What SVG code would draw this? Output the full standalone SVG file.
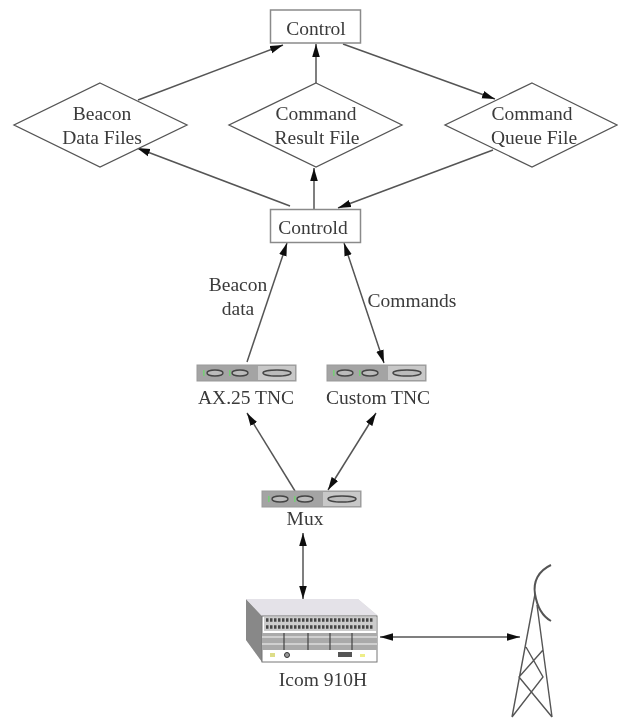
<svg xmlns="http://www.w3.org/2000/svg" width="618" height="719" viewBox="0 0 618 719">
<style>
text{font-family:"Liberation Serif","Times New Roman",serif;font-size:19.5px;fill:#3a3a3a;text-anchor:middle}
.box{fill:#fff;stroke:#8a8a8a;stroke-width:1.5}
.dia{fill:#fff;stroke:#555;stroke-width:1.3}
.c{fill:none;stroke:#555;stroke-width:1.5}
.s{marker-end:url(#a)}
.b{marker-start:url(#as);marker-end:url(#a)}
.tb{fill:#a4a4a4;stroke:#999;stroke-width:1}
.p{fill:#bbb;stroke:#444;stroke-width:1.4}
.t{fill:none;stroke:#555;stroke-width:1.4}
#all{filter:url(#soft)}
</style>
<defs>
<filter id="soft" x="0" y="0" width="100%" height="100%"><feGaussianBlur stdDeviation="0.45"/></filter>
<marker id="a" markerUnits="userSpaceOnUse" markerWidth="14" markerHeight="10" refX="13" refY="5" orient="auto"><path d="M0 1.2 L13 5 L0 8.8 Z" fill="#111"/></marker>
<marker id="as" markerUnits="userSpaceOnUse" markerWidth="14" markerHeight="10" refX="1" refY="5" orient="auto"><path d="M14 1.2 L1 5 L14 8.8 Z" fill="#111"/></marker>
<g id="tnc">
<rect class="tb" x="0" y="0" width="99" height="16"/>
<rect x="61" y="1" width="37" height="14" fill="#c8c8c8"/>
<ellipse class="p" cx="18" cy="8" rx="8" ry="3"/>
<ellipse class="p" cx="43" cy="8" rx="8" ry="3"/>
<ellipse class="p" cx="80" cy="8" rx="14" ry="3"/>
<rect x="6" y="5" width="1.6" height="6" fill="#7c7"/>
<rect x="32" y="5" width="1.6" height="6" fill="#7c7"/>
</g>
</defs>
<g id="all">
<rect width="618" height="719" fill="#fff"/>
<g id="connectors">
<path class="c s" d="M138 100 L283 45"/>
<path class="c s" d="M316 83 L316 44"/>
<path class="c s" d="M343 44 L495 99"/>
<path class="c s" d="M290 206 L137 148"/>
<path class="c s" d="M314 209 L314 168"/>
<path class="c s" d="M493 150 L338 208"/>
<path class="c s" d="M247 362 L287 243"/>
<path class="c b" d="M344 243 L384 363"/>
<path class="c s" d="M295 491 L247 413"/>
<path class="c b" d="M328 490 L376 413"/>
<path class="c b" d="M303 533 L303 599"/>
<path class="c b" d="M380 637 L520 637"/>
</g>
<g id="control"><rect class="box" x="270.500" y="10" width="90" height="33"/><text x="316" y="35">Control</text></g>
<g id="beacon-files"><path class="dia" d="M100 83 L187 125 L100 167 L14 125 Z"/><text x="102" y="120">Beacon</text><text x="102" y="144">Data Files</text></g>
<g id="result-file"><path class="dia" d="M316 83 L402 125 L316 167 L229 125 Z"/><text x="316" y="120">Command</text><text x="317" y="144">Result File</text></g>
<g id="queue-file"><path class="dia" d="M532 83 L617 125 L532 167 L445 125 Z"/><text x="532" y="120">Command</text><text x="534" y="144">Queue File</text></g>
<g id="controld"><rect class="box" x="270.500" y="209.500" width="90" height="33"/><text x="313" y="234">Controld</text></g>
<g id="labels"><text x="238" y="291">Beacon</text><text x="238" y="315">data</text><text x="412" y="307">Commands</text></g>
<g id="ax25"><use href="#tnc" x="197" y="365"/><text x="246" y="404">AX.25 TNC</text></g>
<g id="custom"><use href="#tnc" x="327" y="365"/><text x="378" y="404">Custom TNC</text></g>
<g id="mux"><use href="#tnc" x="262" y="491"/><text x="305" y="525">Mux</text></g>
<g id="icom">
<path d="M246 599 L358 599 L377 615 L377 662 L262 662 L246 640 Z" fill="#ddd"/>
<path d="M246 599 L262 616 L262 662 L246 640 Z" fill="#888"/>
<path d="M246 599 L358 599 L377 615 L262 616 Z" fill="#e4e2e8"/>
<rect x="262" y="616" width="115" height="46" fill="#fff" stroke="#777"/>
<rect x="264" y="617" width="112" height="14" fill="#ccc"/>
<path d="M266 620 H374 M266 627 H374" stroke="#444" stroke-width="3.5" stroke-dasharray="2.5 1.5"/>
<rect x="262" y="633" width="115" height="17" fill="#aaa"/>
<path d="M262 637 H377 M262 644 H377" stroke="#ddd" stroke-width="1.5"/>
<path d="M284 633 V650 M308 633 V650 M330 633 V650 M352 633 V650" stroke="#444" stroke-width="1.2"/>
<circle cx="287" cy="655" r="2.5" fill="#999" stroke="#333"/>
<rect x="338" y="652" width="14" height="5" fill="#555"/>
<rect x="270" y="653" width="5" height="4" fill="#dd8"/>
<rect x="360" y="654" width="5" height="3" fill="#ee8"/>
<text x="323" y="686">Icom 910H</text>
</g>
<g id="tower">
<path class="t" stroke-width="2" style="stroke-width:2" d="M551 565 C538 571 533 582 535 594 C537 606 542 616 551 621"/>
<path class="t" d="M535 594 L512 717 M537 605 L552 717 M526 647 L543 677 L512 717 M543 650 L519 677 L552 717"/>
</g>
</g>
</svg>
